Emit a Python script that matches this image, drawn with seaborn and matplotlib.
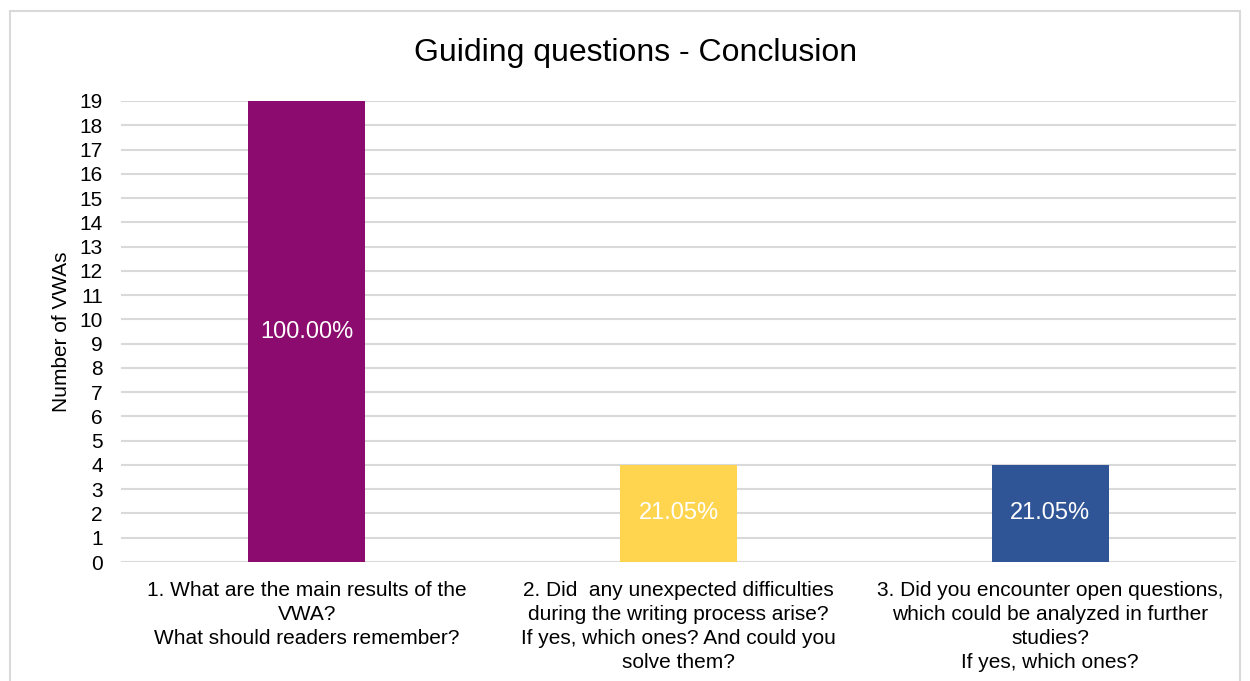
import matplotlib
matplotlib.use("Agg")
import matplotlib.pyplot as plt
import seaborn as sns
import pandas as pd
from matplotlib.patches import Rectangle

categories = [
    "1. What are the main results of the\nVWA?\nWhat should readers remember?",
    "2. Did  any unexpected difficulties\nduring the writing process arise?\nIf yes, which ones? And could you\nsolve them?",
    "3. Did you encounter open questions,\nwhich could be analyzed in further\nstudies?\nIf yes, which ones?",
]
counts = [19, 4, 4]
pct_labels = ["100.00%", "21.05%", "21.05%"]
colors = ["#8B0C6E", "#FFD54F", "#2F5597"]
yticks = list(range(0, 20))

sns.set_theme(style="white")
plt.rcParams['font.family'] = ['Liberation Sans', 'DejaVu Sans']
plt.rcParams['text.color'] = 'black'

df = pd.DataFrame({"cat": categories, "n": counts})

fig = plt.figure(figsize=(12.5, 6.81), dpi=100)
ax = fig.add_axes([0.0968, 0.1747, 0.892, 0.677])

sns.barplot(data=df, x="cat", y="n", hue="cat", palette=colors, width=0.315,
            legend=False, ax=ax, saturation=1, zorder=3, linewidth=0)

ax.set_ylim(0, 19)
ax.set_yticks(yticks)
ax.yaxis.grid(True, color="#D9D9D9", linewidth=1.5, zorder=0)
ax.set_axisbelow(True)
for s in ax.spines.values():
    s.set_visible(False)
ax.tick_params(axis="both", length=0, labelsize=15, colors="#000000")
ax.tick_params(axis="y", pad=13)
ax.tick_params(axis="x", pad=14)
for t in ax.get_xticklabels():
    t.set_linespacing(1.32)
ax.set_xlabel("")
ax.set_ylabel("Number of VWAs", fontsize=15, labelpad=6, color="black")

for i, (c, lab) in enumerate(zip(counts, pct_labels)):
    ax.text(i, c / 2, lab, ha="center", va="center", color="white", fontsize=17, zorder=4)

fig.text(0.5085, 0.922, "Guiding questions - Conclusion", ha="center", va="center",
         fontsize=23, color="black")

fig.patches.append(Rectangle((10 / 1250, -0.05), 1230 / 1250, 1 - 11 / 681 + 0.05,
                             transform=fig.transFigure, fill=False,
                             edgecolor="#D9D9D9", linewidth=1.5))

fig.savefig("out.png", dpi=100)
